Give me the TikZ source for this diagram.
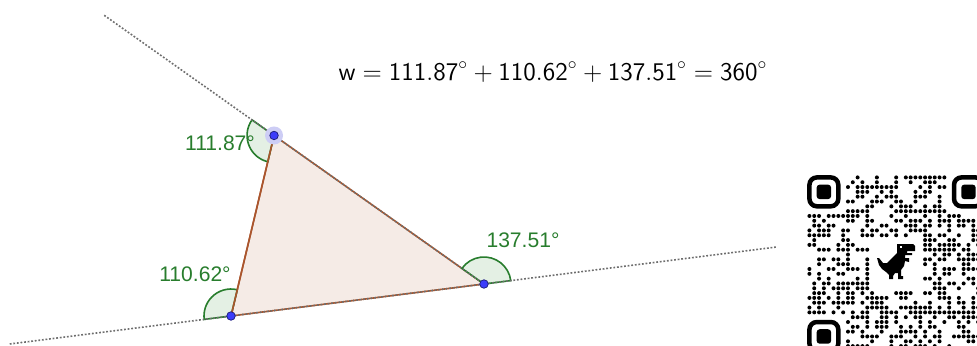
\documentclass[tikz,border=0pt]{standalone}
\usepackage{fontspec}
\newfontfamily\geofont{Liberation Sans}
\usepackage{tikz}
\usetikzlibrary{calc}
\definecolor{polyedge}{RGB}{170,85,45}
\definecolor{polyfill}{RGB}{245,235,230}
\definecolor{anglegreen}{RGB}{40,125,45}
\definecolor{anglefill}{RGB}{228,240,228}
\definecolor{ptblue}{RGB}{60,60,250}
\definecolor{pthalo}{RGB}{205,205,245}
\definecolor{lineGray}{RGB}{110,110,110}
\tikzset{
	auxline/.style={
			draw=lineGray,
			dash pattern=on 0.36mm off 0.36mm,
			line width=0.32mm
		},
	triside/.style={
			draw=polyedge,
			line width=0.32mm,
			fill=polyfill
		},
	anglesec/.style={
			draw=anglegreen,
			fill=anglefill,
			line width=0.32mm
		},
	anglelabel/.style={
			text=anglegreen,
			inner sep=0pt,
			font=\geofont\fontsize{12}{14}\selectfont
		},
	vertexpt/.style={
			circle,
			fill=ptblue,
			draw=ptblue!50!black,
			line width=0.15mm,
			inner sep=0pt,
			minimum size=1.7mm
		},
	qrdot/.style={
			fill=black
		}
}

\begin{document}
\begin{tikzpicture}[x=0.2mm, y=0.2mm]
\useasboundingbox (0,0) rectangle (977,345);
\clip (0,0) rectangle (977,345);

% triangle corners
\coordinate (B) at (231,29);
\coordinate (C) at ($(B)+(7.21:255)$);
\coordinate (A) at ($(B)+(76.59:185.6)$);
% ends of the two lines
\coordinate (P) at ($(A)+(144.72:208)$);
\coordinate (Q) at ($(B)+(187.21:223)$);
\coordinate (R) at ($(C)+(7.21:296)$);

\path[triside] (A) -- (B) -- (C) -- cycle;

% exterior angles
\draw[anglesec] (A) -- ++(144.72:27) arc[start angle=144.72, end angle=256.59, radius=27] -- cycle;
\draw[anglesec] (B) -- ++(76.59:27) arc[start angle=76.59, end angle=187.21, radius=27] -- cycle;
\draw[anglesec] (C) -- ++(7.21:27) arc[start angle=7.21, end angle=144.72, radius=27] -- cycle;

\draw[polyedge, line width=0.32mm] (A) -- (B);
\draw[auxline] (P) -- (C);
\draw[auxline] (Q) -- (R);

\fill[pthalo] (A) circle[radius=9];
\node[vertexpt] (ptA) at (A) {};
\node[vertexpt] (ptB) at (B) {};
\node[vertexpt] (ptC) at (C) {};

\node[anglelabel] (angA) at (220,201.5) {111.87°};
\node[anglelabel] (angB) at (195,70.5) {110.62°};
\node[anglelabel] (angC) at (523,105) {137.51°};

\node (sumw) at (553,273) {\fontsize{14.5}{17}\selectfont
  $\mathsf{w} = \mathsf{111.87}^\circ + \mathsf{110.62}^\circ + \mathsf{137.51}^\circ = \mathsf{360}^\circ$};

% qr code, in pixel rows from the top
\begin{scope}[shift={(0,345)}, yscale=-1]
\pgfmathsetseed{11}
\foreach \i in {0,...,36}{
  \foreach \j in {0,...,36}{
    \pgfmathtruncatemacro{\skipit}{(\i<8 && \j<8) || (\i>28 && \j<8) || (\i<8 && \j>28) || (\i>12 && \i<24 && \j>12 && \j<24)}
    \pgfmathtruncatemacro{\dotit}{rnd<0.5}
    \ifnum\skipit=0 \ifnum\dotit=1
      \fill[qrdot] (807+4.82*\i+2.41, 175+4.82*\j+2.41) circle[radius=2];
    \fi\fi
  }
}
\foreach \fx/\fy in {807/175, 951.6/175, 807/319.6}{
  \draw[line width=0.9mm, rounded corners=1.5mm] (\fx+2.41,\fy+2.41) rectangle ++(28.9,28.9);
  \fill[rounded corners=0.6mm] (\fx+9.64,\fy+9.64) rectangle ++(14.46,14.46);
}
% dino
\fill (897,244) -- (913,244) -- (915,246) -- (915,251) -- (907,251) -- (907,253)
  -- (912,253) -- (912,255) -- (905,255) -- (905,258) -- (909,258) -- (909,262)
  -- (905,261) -- (904,266) -- (901,270) -- (901,276) -- (903,276) -- (903,279)
  -- (898,279) -- (898,273) -- (895,273) -- (893,276) -- (893,279) -- (889,279)
  -- (889,275) -- (886,272) -- (882,269) -- (879,265) -- (877,258) -- (879,258)
  -- (883,263) -- (887,263) -- (891,259) -- (895,255) -- (897,253) -- cycle;
\fill[white] (900,246) rectangle (902,248);
\end{scope}
\end{tikzpicture}
\end{document}
